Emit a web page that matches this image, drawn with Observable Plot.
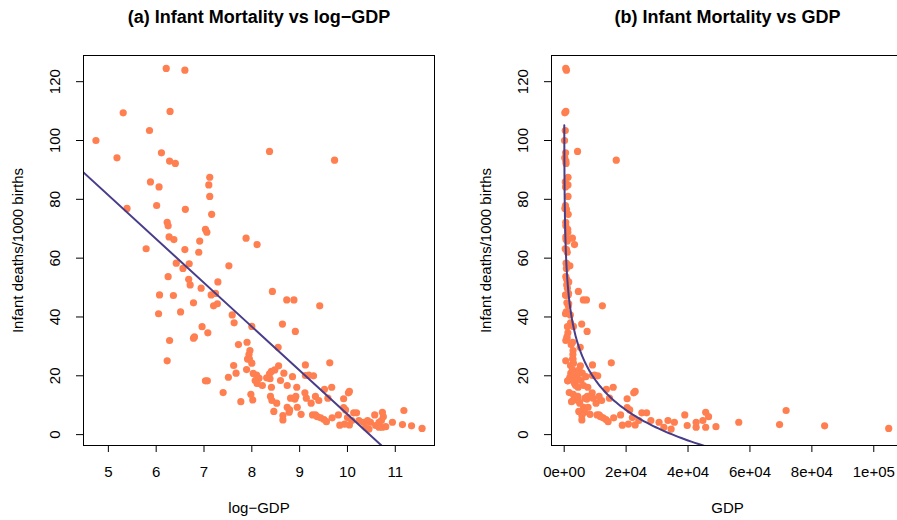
<!DOCTYPE html>
<html><head><meta charset="utf-8">
<script src="https://cdn.jsdelivr.net/npm/d3@7"></script>
<script src="https://cdn.jsdelivr.net/npm/@observablehq/plot@0.6"></script>
<style>
body{margin:0;background:#fff;overflow:hidden}
#wrap{position:relative;width:897px;height:520px;overflow:hidden;background:#fff}
#wrap svg{position:absolute;top:0}
</style></head><body><div id="wrap"></div>
<script>
// ---- data ----
const logGdp = [
6.21,6.60,5.31,6.29,5.86,4.74,5.18,6.11,6.28,6.40,7.12,7.10,7.12,5.88,6.06,5.39,6.01,6.61,7.16,6.23,
6.25,7.03,7.06,6.27,6.37,6.91,7.88,8.11,5.79,6.60,6.89,8.37,9.73,6.42,6.69,6.56,7.52,6.25,6.68,6.71,
7.29,6.07,6.36,6.94,7.15,7.24,6.78,7.20,7.28,6.05,6.51,7.59,7.63,8.00,6.96,7.08,6.78,6.80,6.28,7.90,
7.72,7.96,7.94,7.91,7.95,8.00,6.23,7.62,7.67,7.89,7.51,7.03,7.07,7.40,7.77,7.98,8.02,8.43,8.73,8.88,
9.42,8.64,8.91,8.55,9.63,9.12,8.56,8.41,8.48,8.37,8.67,8.85,9.12,9.19,9.29,8.03,8.10,8.15,8.07,8.11,
8.22,8.31,8.38,8.60,9.52,9.67,8.41,8.74,8.94,8.39,8.42,8.52,8.81,8.92,8.90,9.11,9.14,9.33,9.40,9.59,
9.92,10.02,10.04,9.24,8.74,8.79,8.78,8.95,8.46,8.65,8.65,9.03,9.27,9.33,9.37,9.44,9.51,9.56,9.68,9.81,
9.92,9.96,9.84,9.94,10.04,10.13,10.19,10.00,10.09,10.24,10.33,10.42,10.48,10.38,10.45,10.57,10.73,10.75,10.71,10.59,
10.66,10.73,10.80,10.66,10.94,11.18,11.15,11.34,11.56
];
const mortality = [
124.5,123.9,109.4,109.9,103.4,100.0,94.1,95.8,93.0,92.2,87.5,84.9,81.0,85.9,84.2,76.9,77.9,76.6,74.9,72.2,
71.0,69.8,68.8,67.2,66.3,65.8,66.8,64.6,63.2,62.9,62.0,96.3,93.3,58.3,58.1,56.5,57.4,53.7,52.8,50.9,
51.9,47.5,47.3,49.8,47.5,48.0,44.8,43.8,44.5,41.1,41.7,40.7,38.0,36.8,36.7,34.6,32.8,33.2,32.0,31.4,
30.6,28.6,27.2,25.7,25.7,24.3,25.1,23.5,20.9,22.1,19.5,18.3,18.3,14.3,11.2,13.7,11.8,48.7,45.8,45.8,
43.8,37.6,35.1,29.7,24.4,23.7,23.4,21.5,22.0,20.7,20.9,19.7,20.1,20.2,20.0,20.8,20.2,19.2,18.4,17.4,
16.7,19.3,19.0,18.4,15.4,16.1,16.1,16.7,16.1,13.0,11.6,10.7,12.4,13.0,12.1,14.2,12.4,13.0,11.6,12.4,
12.2,14.2,14.7,10.7,9.3,8.4,7.6,9.3,7.9,6.5,5.0,6.9,6.7,6.7,6.1,5.7,5.1,4.4,5.7,6.7,
9.2,8.4,3.2,3.6,3.3,7.4,7.4,5.8,4.8,4.8,4.2,4.8,4.2,2.5,1.9,6.7,7.6,6.1,4.8,3.1,
2.5,2.5,2.7,4.2,4.2,8.2,3.4,3.0,2.1
];
// fitted model: mortality = a + b * log(GDP)
const fitIntercept = 155.9;
const fitSlope = -14.9;
const curveGdpStart = 30;
const curveGdpEnd = 110000;

const yTicks = [0, 20, 40, 60, 80, 100, 120];
const yTickLabels = ["0", "20", "40", "60", "80", "100", "120"];
const logTicks = [5, 6, 7, 8, 9, 10, 11];
const logTickLabels = ["5", "6", "7", "8", "9", "10", "11"];
const gdpTicks = [0, 20000, 40000, 60000, 80000, 100000];
const gdpTickLabels = ["0e+00", "2e+04", "4e+04", "6e+04", "8e+04", "1e+05"];
const titles = ["(a) Infant Mortality vs log\u2212GDP", "(b) Infant Mortality vs GDP"];
const xLabels = ["log\u2212GDP", "GDP"];
const yLabel = "Infant deaths/1000 births";

const countries = logGdp.map((l, i) => ({lg: l, gdp: Math.exp(l), m: mortality[i]}));

const DOT = "#FF7F50", LINE = "#483D8B";
const FONT = "'Liberation Sans', Arial, Helvetica, sans-serif";

function panel({width, marginLeft, marginRight, xDomain, xKey, xTicks, xTickLabels, title, xLabel, lineData}) {
  return Plot.plot({
    width, height: 520,
    marginLeft, marginRight, marginTop: 55, marginBottom: 75,
    style: {fontFamily: FONT, fontSize: "15px", background: "transparent", color: "black"},
    x: {domain: xDomain},
    y: {domain: [-3.7, 128.9]},
    marks: [
      Plot.dot(countries, {x: xKey, y: "m", r: 3.6, fill: DOT, stroke: null}),
      Plot.line(lineData, {x: d => d, y: d => fitIntercept + fitSlope * (xKey === "lg" ? d : Math.log(d)), stroke: LINE, strokeWidth: 2, clip: true}),
      Plot.frame({stroke: "black", strokeWidth: 1}),
      Plot.axisX({ticks: xTicks, tickSize: 7, tickPadding: 14, tickFormat: d => xTickLabels[xTicks.indexOf(d)], label: null, fontSize: 15}),
      Plot.axisY({ticks: yTicks, tickSize: 7, tickFormat: () => "", label: null}),
      Plot.text(yTicks, {y: d => d, text: d => yTickLabels[yTicks.indexOf(d)], frameAnchor: "left", dx: -28, rotate: -90, textAnchor: "middle", lineAnchor: "middle", fontSize: 15}),
      Plot.text([yLabel], {text: d => d, frameAnchor: "left", dx: -65, rotate: -90, textAnchor: "middle", lineAnchor: "middle", fontSize: 15}),
      Plot.text([xLabel], {text: d => d, frameAnchor: "bottom", dy: 63, textAnchor: "middle", lineAnchor: "middle", fontSize: 15}),
      Plot.text([title], {text: d => d, frameAnchor: "top", dy: -38.5, textAnchor: "middle", lineAnchor: "middle", fontSize: 18, fontWeight: "bold"})
    ]
  });
}

const logDomain = [4.48, 11.82];
const left = panel({
  width: 448, marginLeft: 83, marginRight: 14,
  xDomain: logDomain, xKey: "lg", xTicks: logTicks, xTickLabels: logTickLabels,
  title: titles[0], xLabel: xLabels[0],
  lineData: logDomain
});
const curveGdp = d3.range(0, 301).map(i => curveGdpStart * Math.pow(curveGdpEnd / curveGdpStart, i / 300));
const right = panel({
  width: 454, marginLeft: 102, marginRight: 0,
  xDomain: [-4100, 109600], xKey: "gdp", xTicks: gdpTicks, xTickLabels: gdpTickLabels,
  title: titles[1], xLabel: xLabels[1],
  lineData: curveGdp
});
left.style.left = "0px";
right.style.left = "449px";
document.getElementById("wrap").append(left, right);
</script>
</body></html>
